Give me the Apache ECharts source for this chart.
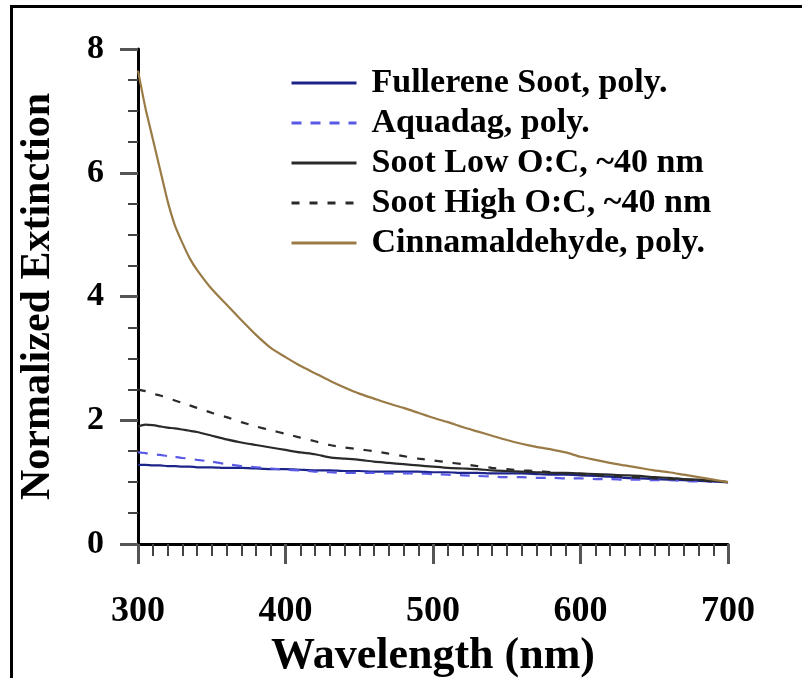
<!DOCTYPE html>
<html>
<head>
<meta charset="utf-8">
<script src="https://cdn.jsdelivr.net/npm/echarts@6/dist/echarts.min.js"></script>
<style>
html,body{margin:0;padding:0;background:#fff;}
#chart{width:802px;height:678px;}
</style>
</head>
<body>
<div id="chart"></div>
<script>
// Wavelength (nm)
const wavelengths = [300,305,310,315,320,325,330,335,340,350,360,370,380,390,400,410,420,430,440,450,460,470,480,490,500,510,520,530,540,550,560,570,580,590,600,610,620,630,640,650,660,670,680,690,700];
const fullerene = [1.28,1.28,1.27,1.27,1.26,1.26,1.25,1.25,1.24,1.24,1.23,1.23,1.22,1.21,1.21,1.20,1.19,1.19,1.18,1.18,1.17,1.17,1.17,1.17,1.16,1.16,1.15,1.15,1.14,1.14,1.14,1.13,1.12,1.12,1.11,1.10,1.09,1.07,1.06,1.05,1.04,1.03,1.02,1.01,1.00];
const aquadag = [1.48,1.47,1.45,1.44,1.42,1.41,1.39,1.38,1.36,1.33,1.29,1.26,1.24,1.22,1.20,1.19,1.17,1.16,1.15,1.15,1.15,1.14,1.14,1.14,1.13,1.12,1.11,1.10,1.09,1.08,1.08,1.07,1.07,1.06,1.06,1.05,1.05,1.04,1.04,1.03,1.03,1.02,1.01,1.01,1.00];
const sootLow = [1.90,1.93,1.92,1.90,1.88,1.87,1.85,1.83,1.81,1.75,1.69,1.64,1.60,1.56,1.52,1.48,1.45,1.40,1.38,1.36,1.33,1.31,1.29,1.27,1.25,1.23,1.22,1.21,1.19,1.18,1.17,1.16,1.15,1.15,1.14,1.13,1.12,1.11,1.10,1.08,1.07,1.05,1.04,1.02,1.00];
const sootHigh = [2.50,2.47,2.43,2.40,2.36,2.32,2.28,2.24,2.20,2.12,2.05,1.97,1.90,1.84,1.78,1.72,1.66,1.60,1.56,1.53,1.50,1.46,1.42,1.38,1.35,1.32,1.29,1.26,1.23,1.21,1.19,1.18,1.16,1.14,1.13,1.11,1.10,1.09,1.07,1.06,1.05,1.04,1.03,1.01,1.00];
const cinnamaldehyde = [7.65,7.05,6.55,6.05,5.55,5.15,4.87,4.62,4.43,4.12,3.87,3.62,3.38,3.17,3.02,2.88,2.76,2.64,2.53,2.43,2.35,2.27,2.20,2.12,2.04,1.97,1.89,1.82,1.75,1.68,1.62,1.57,1.53,1.48,1.41,1.36,1.31,1.27,1.23,1.19,1.16,1.12,1.08,1.04,1.00];

const seriesNames = ['Fullerene Soot, poly.','Aquadag, poly.','Soot Low O:C, ~40 nm','Soot High O:C, ~40 nm','Cinnamaldehyde, poly.'];
const seriesValues = [fullerene, aquadag, sootLow, sootHigh, cinnamaldehyde];
const seriesColors = ['#1c2488','#5a5ae6','#2a2a2a','#2a2a2a','#9a7b45'];
const seriesDash = ['solid',[10,9],'solid',[8,10],'solid'];

const serif = '"Liberation Serif","DejaVu Serif",serif';
const chart = echarts.init(document.getElementById('chart'));

const series = seriesNames.map((name, i) => ({
  name: name,
  type: 'line',
  symbol: 'none',
  showSymbol: false,
  smooth: 0.2,
  data: wavelengths.map((w, j) => [w, seriesValues[i][j]]),
  lineStyle: {color: seriesColors[i], width: 2.2, type: seriesDash[i]},
  itemStyle: {color: seriesColors[i]},
  z: i === 4 ? 3 : 2
}));

chart.setOption({
  animation: false,
  backgroundColor: '#ffffff',
  grid: {left: 138, right: 74, top: 49, bottom: 134, containLabel: false, outerBoundsMode: 'none'},
  legend: {
    orient: 'vertical',
    left: 285,
    top: 58,
    itemWidth: 65,
    itemHeight: 12,
    itemGap: 0,
    data: seriesNames,
    itemStyle: {opacity: 0},
    lineStyle: {width: 3},
    textStyle: {fontFamily: serif, fontWeight: 'bold', fontSize: 34, color: '#000', lineHeight: 40, padding: [0,0,0,10]}
  },
  xAxis: {
    type: 'value',
    min: 300, max: 700, interval: 100,
    name: 'Wavelength (nm)',
    nameLocation: 'middle',
    nameGap: 90,
    nameTextStyle: {fontFamily: serif, fontWeight: 'bold', fontSize: 44, color: '#000'},
    axisLine: {show: true, onZero: false, lineStyle: {color: '#000', width: 3}},
    axisTick: {show: true, length: 20, lineStyle: {color: '#555', width: 3}},
    minorTick: {show: true, splitNumber: 10, length: 12, lineStyle: {color: '#444', width: 2}},
    axisLabel: {fontFamily: serif, fontWeight: 'bold', fontSize: 36, color: '#000', margin: 50},
    splitLine: {show: false}
  },
  yAxis: {
    type: 'value',
    min: 0, max: 8, interval: 2,
    name: 'Normalized Extinction',
    nameLocation: 'middle',
    nameGap: 79,
    nameTextStyle: {fontFamily: serif, fontWeight: 'bold', fontSize: 42, color: '#000'},
    axisLine: {show: true, lineStyle: {color: '#000', width: 3}},
    axisTick: {show: true, length: 18, lineStyle: {color: '#555', width: 3}},
    minorTick: {show: true, splitNumber: 4, length: 10, lineStyle: {color: '#444', width: 2}},
    axisLabel: {fontFamily: serif, fontWeight: 'bold', fontSize: 34, color: '#000', margin: 34},
    splitLine: {show: false}
  },
  graphic: [{
    type: 'rect',
    shape: {x: 11.5, y: 6.5, width: 900, height: 900},
    style: {fill: 'none', stroke: '#000', lineWidth: 3},
    silent: true
  }],
  series: series
});
</script>
</body>
</html>
